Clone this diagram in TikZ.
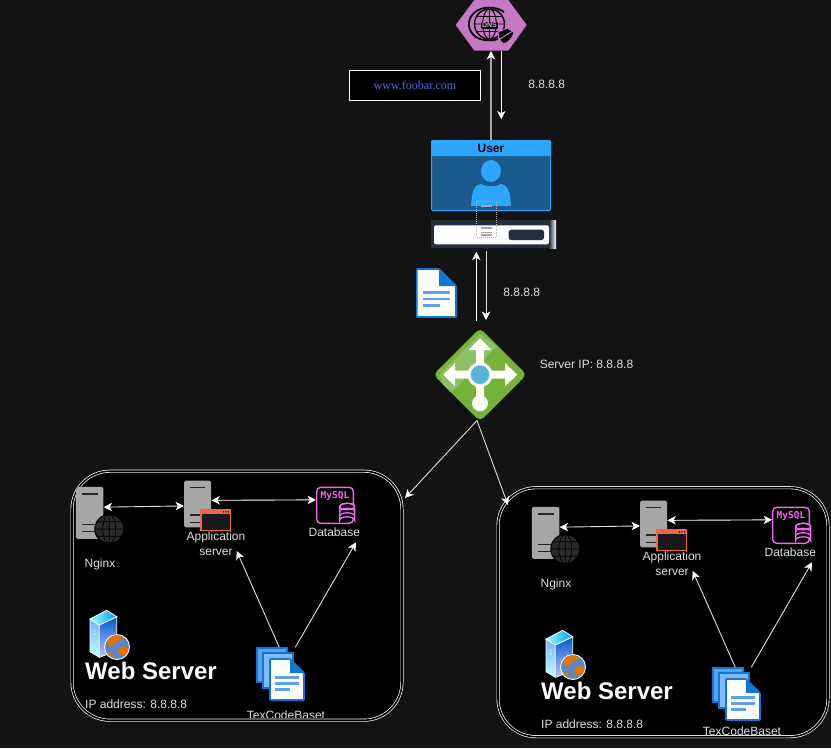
\documentclass[tikz,border=0pt]{standalone}
\usepackage{fontspec}
\setmainfont{Liberation Sans}
\newfontfamily\wwwfont{Liberation Serif}
\newfontfamily\sqlfont{DejaVu Sans Mono}
\usepackage{tikz}
\usetikzlibrary{arrows.meta}
\definecolor{pagebg}{HTML}{131313}
\definecolor{lbltext}{HTML}{DEDEDE}
\definecolor{srvgray}{HTML}{A6A6A6}
\definecolor{srvline}{HTML}{2A2A2A}
\definecolor{dnspink}{HTML}{C678C6}
\definecolor{userblue}{HTML}{2EA6FF}
\definecolor{userdark}{HTML}{1A5A8C}
\definecolor{barnavy}{HTML}{232F3E}
\definecolor{docblue}{HTML}{0F78D4}
\definecolor{doclight}{HTML}{5EA0EF}
\definecolor{docpale}{HTML}{83B9F9}
\definecolor{lbgreen}{HTML}{76B33A}
\definecolor{lbpale}{HTML}{8DC164}
\definecolor{lbcore}{HTML}{59B4D9}
\definecolor{sqlpink}{HTML}{F566F0}
\definecolor{winred}{HTML}{F0654F}
\tikzstyle{Lbl}=[font=\fontsize{12}{15}\selectfont, text=lbltext, inner sep=0, align=center]
\tikzstyle{Flow}=[white, line width=0.9, -{Stealth[length=8.5,width=8.5,inset=2.5,color=white]}]
\tikzstyle{Both}=[white, line width=0.9, {Stealth[length=8.5,width=8.5,inset=2.5,color=white]}-{Stealth[length=8.5,width=8.5,inset=2.5,color=white]}]
\tikzstyle{Srv}=[rectangle, fill=srvgray, rounded corners=1.5, inner sep=0]
\tikzstyle{Cluster}=[rectangle, rounded corners=38, minimum width=330, minimum height=249, fill=black, draw=white, double=black, double distance=1.6, line width=0.7]
% one sheet of paper: x1 y1 x2 y2 fold fill
\newcommand{\docsheet}[6]{
  \filldraw[draw=docblue, fill=#6, line width=1.6, rounded corners=0.8] (#1,#2) -- ({#3-#5},#2) -- (#3,{#2+#5}) -- (#3,#4) -- (#1,#4) -- cycle;
  \fill[docblue] ({#3-#5},#2) -- (#3,{#2+#5}) -- ({#3-#5},{#2+#5}) -- cycle;
}
% globe: cx cy r fill line width
\newcommand{\globeicon}[5]{
  \begin{scope}[shift={(#1,#2)}]
    \filldraw[fill=#4, draw=black, line width=#5] (0,0) circle (#3);
    \draw[black, line width=#5*0.7] (0,0) ellipse ({#3*0.45} and #3) (0,{-#3}) -- (0,#3) ({-#3},0) -- (#3,0)
      ({-#3*0.87},{-#3*0.5}) -- ({#3*0.87},{-#3*0.5}) ({-#3*0.87},{#3*0.5}) -- ({#3*0.87},{#3*0.5});
  \end{scope}
}
\begin{document}
\begin{tikzpicture}[x=1pt, y=-1pt]
    \useasboundingbox[fill=pagebg] (0,0) rectangle (831,748);

    % dns on top
    \fill[dnspink] (455.7,25) -- (474.3,0) -- (508.3,0) -- (526.7,25) -- (508.3,50.7) -- (474.3,50.7) -- cycle;
    \globeicon{489.5}{24}{15}{dnspink}{1.4}
    \draw[black, line width=1.8] (504,12) .. controls (496,6) and (481,6) .. (474,13) .. controls (466,20) and (468,32) .. (476,37) .. controls (482,41) and (492,41) .. (498,39);
    \path (489.5,25.5) node[fill=black, rounded corners=1, inner sep=1, font=\bfseries\fontsize{7}{8}\selectfont, text=dnspink!60!white] (dnstxt) {DNS};
    \filldraw[fill=black, draw=dnspink, line width=1] (498,32) -- (507,28) -- (514,32) .. controls (513,38) and (509,42) .. (504,44) .. controls (500,42) and (498,37) .. (498,32) -- cycle;
    \draw[dnspink, line width=1] (500,39) -- (513,31);
    \coordinate (dnsup) at (491,51);
    \coordinate (dnsdown) at (501.3,50.7);

    % user box
    \path (491,175.5) node[rectangle, minimum width=119, minimum height=70, fill=userdark, draw=userblue, line width=1, rounded corners=1, inner sep=0] (user) {};
    \fill[userblue, rounded corners=1] (431,140.3) rectangle (551,156);
    \path (491,148) node[font=\bfseries\fontsize{12}{14}\selectfont, text=black, inner sep=0] (usertxt) {User};
    \fill[userblue] (491,171) ellipse (10 and 11);
    \fill[userblue] (471,206) .. controls (472,192) and (473,186) .. (481,184) .. controls (486,187) and (496,187) .. (501,184) .. controls (509,186) and (510,192) .. (511,206) -- cycle;

    % browser bar
    \path (490,234) node[rectangle, minimum width=119, minimum height=28, fill=barnavy, inner sep=0] (bar) {};
    \shade[left color=barnavy, right color=white] (549,220) rectangle (556,248);
    \fill[white, rounded corners=2] (434,225.3) rectangle (549,244.3);
    \fill[barnavy, rounded corners=2.5] (508.7,229.7) rectangle (544,240);
    \draw[gray!60, densely dotted, line width=1] (476.7,201.3) rectangle (496,237.3);
    \draw[srvgray, line width=1.2] (480.7,206) -- (492,206) (480.7,228) -- (492,228) (480.7,232.3) -- (492,232.3) (480.7,235) -- (492,235);

    \draw[Flow, draw=srvgray, line width=1.4] (user.north) -- (dnsup);
    \draw[Flow] (dnsdown) -- (501.3,119.3);

    \path (415,85.3) node[rectangle, minimum width=131, minimum height=30, fill=black, draw=white, line width=1, inner sep=0, font=\wwwfont\fontsize{12}{14}\selectfont, text={rgb,255:red,90;green,102;blue,224}] (www) {www.foobar.com};
    \path (546.7,84.7) node[Lbl] (dnsip) {8.8.8.8};

    % load balancer
    \path (480,374.7) node[rectangle, rotate=45, minimum size=66, fill=lbgreen, rounded corners=5, inner sep=0] (lb) {};
    \begin{scope}
      \clip (440,374) -- (480,334) -- (497,346) -- (447,397) -- cycle;
      \path (480,374.7) node[rectangle, rotate=45, minimum size=66, fill=lbpale, rounded corners=5, inner sep=0] {};
    \end{scope}
    \fill[white] (476,400) -- (476,350) -- (468.5,350) -- (480,338.3) -- (491.5,350) -- (484,350) -- (484,400) -- cycle;
    \fill[white] (455,370.7) -- (505,370.7) -- (505,363) -- (517.3,374.7) -- (505,386.4) -- (505,378.7) -- (455,378.7) -- (455,386.4) -- (443.3,374.7) -- (455,363) -- (455,370.7) -- cycle;
    \fill[white] (480,403.3) circle (8);
    \filldraw[fill=lbcore, draw=white, line width=3] (480,374.7) circle (11);
    \coordinate (lbout) at (477,420.5);
    \coordinate (lbin) at (476.3,320.7);
    \coordinate (lbback) at (486,320);

    \draw[Flow] (lbin) -- (476.3,251.7);
    \draw[Flow, draw=lbltext] (486,251) -- (lbback);
    \path (521.7,292.3) node[Lbl] (barip) {8.8.8.8};
    \path (586.5,364.7) node[Lbl] (lbip) {Server IP: 8.8.8.8};
    \docsheet{416.8}{269}{456}{317}{17}{white}
    \draw[doclight, line width=2.6] (422.7,292.7) -- (450,292.7) (422.7,299) -- (450,299) (422.7,305.7) -- (440,305.7);

    % two web servers
    \foreach \pre/\dx/\dy/\bx/\by in {L/0/0/0/0, R/456/20/426/16.5} {
      \path ({237+\bx},{595.7+\by}) node[Cluster] (\pre box) {};
      \begin{scope}
        \clip ({200+\dx},{700+\by}) rectangle ({370+\dx},{717.7+\by});
        \path ({286+\dx},{715.2+\by}) node[Lbl] (\pre txt) {TexCodeBaset};
      \end{scope}
      \begin{scope}[shift={(\dx,\dy)}]
        \path (89.7,512.8) node[Srv, minimum width=27.5, minimum height=52] (\pre nginx) {}
        (197.7,504) node[Srv, minimum width=27, minimum height=46.6] (\pre app) {}
        (335,505.3) node[rectangle, minimum width=36.6, minimum height=36, draw=sqlpink, line width=1.4, rounded corners=4, inner sep=0] (\pre db) {}
        (100,564.3) node[Lbl] (\pre nginxtxt) {Nginx}
        (216,544.2) node[Lbl] (\pre apptxt) {Application\\server}
        (334.3,532.7) node[Lbl] (\pre dbtxt) {Database}
        (85,671) node[Lbl, anchor=west, text=white, font=\bfseries\fontsize{24}{28}\selectfont] (\pre title) {Web Server}
        (85,704) node[Lbl, anchor=west] (\pre ip) {IP address: 8.8.8.8}
        (335,495.7) node[inner sep=0, text=sqlpink, font=\sqlfont\bfseries\fontsize{9.5}{11}\selectfont] (\pre sql) {MySQL};
        % server marks
        \draw[black!85, line width=1.4] (82,494) -- (98,494) (82,524.3) -- (100,524.3) (82,531.7) -- (100,531.7)
          (190,487.5) -- (205,487.5) (190,515) -- (205,515) (190,522.3) -- (205,522.3);
        \globeicon{109.3}{529}{14.5}{srvline}{1}
        % window
        \filldraw[fill=black!90!white, draw=winred, line width=1.2] (201,509.5) rectangle (230.5,530.3);
        \fill[winred] (201,509.5) rectangle (230.5,514);
        \fill[black] (223.5,511.8) circle (0.7) (226,511.8) circle (0.7) (228.5,511.8) circle (0.7);
        % cylinder
        \filldraw[fill=black, draw=sqlpink, line width=1.3] (339.8,506.5) arc (180:360:7.4 and 3.2) -- (354.6,520) arc (0:-180:7.4 and 3.2) -- cycle;
        \draw[sqlpink, line width=1.3] (347.2,506.5) ellipse (7.4 and 3.2) (339.8,511.5) arc (180:0:7.4 and -3.2) (339.8,516) arc (180:0:7.4 and -3.2);
        % tower with globe
        \shade[top color=cyan!45!blue!55!white, bottom color=cyan!25!white, draw=white, line width=0.8] (90,619) -- (99.3,625) -- (99.3,657.3) -- (90,651.7) -- cycle;
        \shade[top color=blue!55!cyan!80!black, bottom color=blue!25!white, draw=white, line width=0.8] (99.3,625) -- (116.7,616.7) -- (116.7,651) -- (99.3,657.3) -- cycle;
        \shade[left color=cyan!40!white, right color=cyan!60!blue, draw=white, line width=0.8] (90,619) -- (106.7,610.3) -- (116.7,616.7) -- (99.3,625) -- cycle;
        \draw[white, line width=0.4] (93,630) -- (96,631.5) (93,633) -- (96,634.5);
        \filldraw[fill=cyan!45!blue!70!white, draw=white, line width=0.9] (117,647) circle (12.5);
        \fill[orange!90!black] (110,637) .. controls (116,634) and (122,636) .. (124,639) .. controls (118,640) and (114,643) .. (112,647) .. controls (108,647) and (106,642) .. (110,637) -- cycle;
        \fill[orange!90!black] (122,646) .. controls (128,645) and (130,650) .. (126,654) .. controls (122,657) and (119,655) .. (118,651) -- cycle;
        \fill[orange!90!black] (108,651) .. controls (112,652) and (114,656) .. (113,658) .. controls (110,657) and (108,654) .. (108,651) -- cycle;
        % source stack
        \filldraw[draw=docblue, fill=doclight, line width=1.6] (256.8,648) rectangle (287,682);
        \filldraw[draw=docblue, fill=docpale, line width=1.6] (262.8,653) rectangle (293,688);
        \docsheet{270}{659}{304}{700}{14}{white}
        \draw[doclight, line width=2.4] (275,677.3) -- (298.7,677.3) (275,683.3) -- (298.7,683.3) (275,689.3) -- (290,689.3);
        \coordinate (\pre srcapp) at (279.3,647.3);
        \coordinate (\pre srcdb) at (295.3,647.3);
        \coordinate (\pre apptip) at (236.7,551);
        \coordinate (\pre dbtip) at (356,542.3);
        % links
        \draw[Both, draw=lbltext] (\pre nginx.22) -- (\pre app.188);
        \draw[Both] (\pre app.15) -- (\pre db.164);
        \draw[Flow, draw=lbltext] (\pre srcapp) -- (\pre apptip);
        \draw[Flow, draw=lbltext] (\pre srcdb) -- (\pre dbtip);
      \end{scope}
    }
    \coordinate (Lboxin) at (405,498);
    \coordinate (Rboxin) at (508,505);
    \draw[Flow, draw=lbltext] (lbout) -- (Lboxin);
    \draw[Flow, draw=lbltext] (lbout) -- (Rboxin);
\end{tikzpicture}
\end{document}
